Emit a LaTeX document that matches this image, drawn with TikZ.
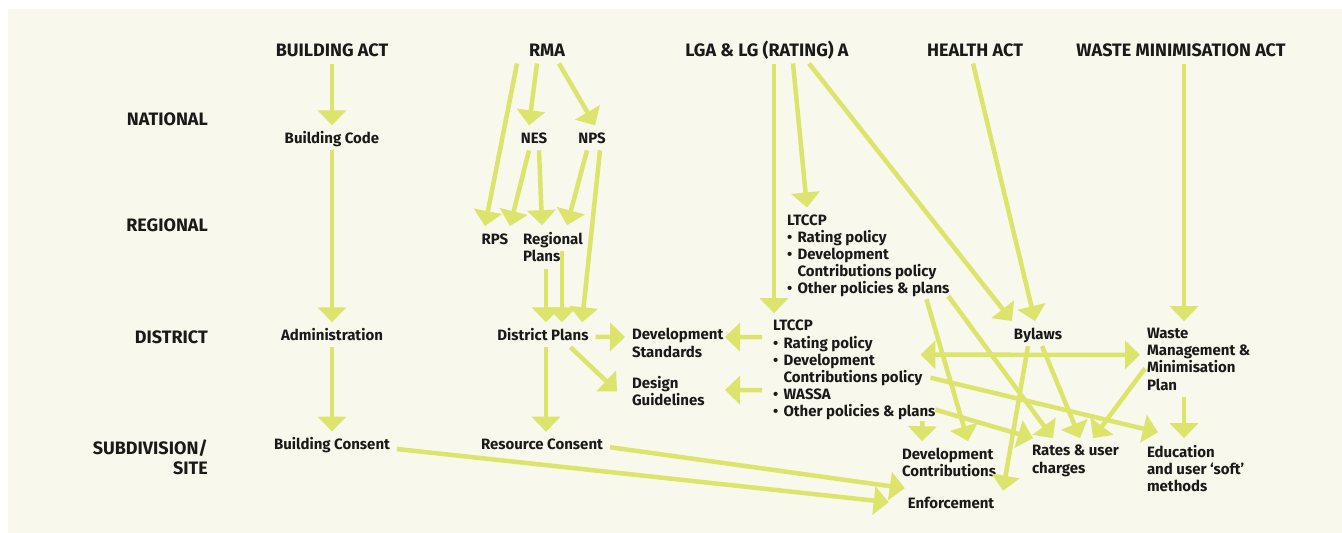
\documentclass[tikz,border=0pt]{standalone}
\usepackage{fontspec}
\setmainfont{Fira Sans}
\definecolor{BGcream}{HTML}{F8F8EC}
\definecolor{ARRlime}{HTML}{DDE46B}
\definecolor{TXTdark}{HTML}{1A1A1A}
\usetikzlibrary{arrows.meta}
\newcommand{\itemdot}{\makebox[10.5pt][l]{\textbullet}}
\newcommand{\itemgap}{\hspace*{10.5pt}}

\begin{document}
\begin{tikzpicture}[x=1pt,y=-1pt,
  every node/.style={inner sep=0pt,text=TXTdark},
  act/.style={font=\fontsize{18}{21}\selectfont\bfseries,text height=12.5pt,text depth=0pt,outer sep=7pt,anchor=base},
  lvl/.style={font=\fontsize{18}{19.5}\selectfont\bfseries,anchor=base east,align=right},
  item/.style={font=\fontsize{15}{17.2}\selectfont\bfseries,text height=11pt,text depth=0pt,outer sep=7pt,anchor=base},
  block/.style={font=\fontsize{15}{17.2}\selectfont\bfseries,align=left,outer sep=7pt,anchor=north west},
  arr/.style={draw=ARRlime,line width=4.5pt,-{Triangle[length=15pt,width=28pt]}},
  arrboth/.style={arr,{Triangle[length=15pt,width=28pt]}-{Triangle[length=15pt,width=28pt]}}]
  \useasboundingbox (0,0) rectangle (1342,533);
  \fill[BGcream] (8,9) rectangle (1342,533);

  % acts
  \node[act] (build) at (332,56.5) {BUILDING ACT};
  \node[act] (rma) at (547,56.5) {RMA};
  \node[act] (lga) at (767,56.5) {LGA \& LG (RATING) A};
  \node[act] (health) at (975,56.5) {HEALTH ACT};
  \node[act] (waste) at (1181,56.5) {WASTE MINIMISATION ACT};

  % levels
  \node[lvl] (national) at (208,125.7) {NATIONAL};
  \node[lvl] (regional) at (208,231.7) {REGIONAL};
  \node[lvl] (district) at (208,343.3) {DISTRICT};
  \node[lvl,anchor=north east] (subdiv) at (208,439.8) {SUBDIVISION/\\SITE};

  % building column
  \node[item] (bcode) at (332,143.3) {Building Code};
  \node[item] (admin) at (332,340.3) {Administration};
  \node[item] (bcons) at (332,449.5) {Building Consent};

  % rma column
  \node[item] (nes) at (534,143.3) {NES};
  \node[item] (nps) at (592,143.3) {NPS};
  \node[item] (rps) at (495,244) {RPS};
  \node[block] (rplans) at (516,225.2) {Regional\\Plans};
  \node[item] (dplans) at (543,340.3) {District Plans};
  \node[item] (rcons) at (542,449.7) {Resource Consent};
  \node[block,text width=86pt] (dstand) at (625,321.5) {Development\\Standards};
  \node[block,text width=86pt] (dguide) at (625,369.5) {Design\\Guidelines};

  % lga column
  \node[block] (ltccpr) at (780,207.5) {LTCCP\\\itemdot Rating policy\\\itemdot Development\\\itemgap Contributions policy\\\itemdot Other policies \& plans};
  \node[block] (ltccpd) at (766,313.2) {LTCCP\\\itemdot Rating policy\\\itemdot Development\\\itemgap Contributions policy\\\itemdot WASSA\\\itemdot Other policies \& plans};
  \node[item] (bylaws) at (1038,339) {Bylaws};
  \node[block] (wmmp) at (1140,321.2) {Waste\\Management \&\\Minimisation\\Plan};
  \node[block] (dcontr) at (895,441.2) {Development\\Contributions};
  \node[block] (rates) at (1025,438.2) {Rates \& user\\charges};
  \node[block] (educ) at (1140,438.2) {Education\\and user `soft'\\methods};
  \node[item] (enforce) at (951,508.7) {Enforcement};

  % building act chain
  \draw[arr] (build) -- (bcode);
  \draw[arr] (bcode) -- (admin);
  \draw[arr] (admin) -- (bcons);
  \draw[arr] ([yshift=-5pt]bcons.east) -- ([xshift=-12pt,yshift=1pt]enforce.west);

  % rma
  \draw[arr] ([xshift=-30pt]rma.south) -- ([xshift=-10pt]rps.north);
  \draw[arr] ([xshift=-10pt]rma.south) -- ([xshift=-5pt]nes.north);
  \draw[arr] ([xshift=12pt]rma.south) -- ([xshift=3pt]nps.north);
  \draw[arr] ([xshift=-5pt]nes.south) -- ([xshift=15pt]rps.north);
  \draw[arr] ([xshift=5pt]nes.south) -- ([xshift=26pt]rplans.north west);
  \draw[arr] ([xshift=-5pt]nps.south) -- ([xshift=51pt]rplans.north west);
  \draw[arr] ([xshift=8pt]nps.south) -- ([xshift=39pt]dplans.north);
  \draw[arr] ([xshift=30pt]rplans.south west) -- ([xshift=3pt]dplans.north);
  \draw[arr] ([xshift=46pt,yshift=18pt]rplans.south west) -- ([xshift=19pt]dplans.north);
  \draw[arr] ([yshift=-2pt]dplans.east) -- ([yshift=-15.5pt]dstand.north west);
  \draw[arr] ([xshift=-25pt]dplans.south east) -- ([xshift=-8pt]dguide.west);
  \draw[arr] ([xshift=3pt]dplans.south) -- ([xshift=4pt]rcons.north);
  \draw[arr] ([yshift=-3pt]rcons.east) -- ([xshift=4pt,yshift=15pt]enforce.west);

  % lga
  \draw[arr] ([xshift=7pt]lga.south) -- ([xshift=8pt]ltccpd.north west);
  \draw[arr] ([xshift=26pt]lga.south) -- ([xshift=27pt]ltccpr.north west);
  \draw[arr] ([xshift=42pt]lga.south) -- ([xshift=-26pt]bylaws.north);
  \draw[arr] ([xshift=-4pt,yshift=-24pt]ltccpd.north west) -- ([yshift=-15.5pt]dstand.north east);
  \draw[arr] ([xshift=-4pt,yshift=-77pt]ltccpd.north west) -- ([yshift=-20.5pt]dguide.north east);
  \draw[arr] ([xshift=-30pt,yshift=5pt]ltccpr.south east) -- ([xshift=73pt]dcontr.north west);
  \draw[arr] ([xshift=-8pt,yshift=8pt]ltccpr.south east) -- ([xshift=28pt]rates.north west);
  \draw[arrboth] ([xshift=-22pt,yshift=15.5pt]ltccpd.east) -- ([yshift=4.5pt]wmmp.west);
  \draw[arr] ([xshift=-12pt,yshift=-7.5pt]ltccpd.east) -- ([xshift=18pt,yshift=6pt]educ.north west);
  \draw[arr] ([xshift=-7pt,yshift=-39.5pt]ltccpd.east) -- ([xshift=8pt]rates.north west);
  \draw[arr] ([xshift=-20pt,yshift=6pt]ltccpd.south east) -- ([xshift=27pt]dcontr.north west);

  % health, waste
  \draw[arr] ([xshift=-2pt]health.south) -- ([xshift=-3pt]bylaws.north);
  \draw[arr] ([xshift=4pt]bylaws.south) -- ([xshift=55pt]rates.north west);
  \draw[arr] ([xshift=-10pt]bylaws.south) -- ([xshift=52pt]enforce.north);
  \draw[arr] ([xshift=3pt]waste.south) -- ([xshift=44pt]wmmp.north west);
  \draw[arr] ([xshift=44pt]wmmp.south west) -- ([xshift=44pt]educ.north west);
  \draw[arr] ([xshift=5pt,yshift=-9pt]wmmp.west) -- ([xshift=68pt]rates.north west);
\end{tikzpicture}
\end{document}
